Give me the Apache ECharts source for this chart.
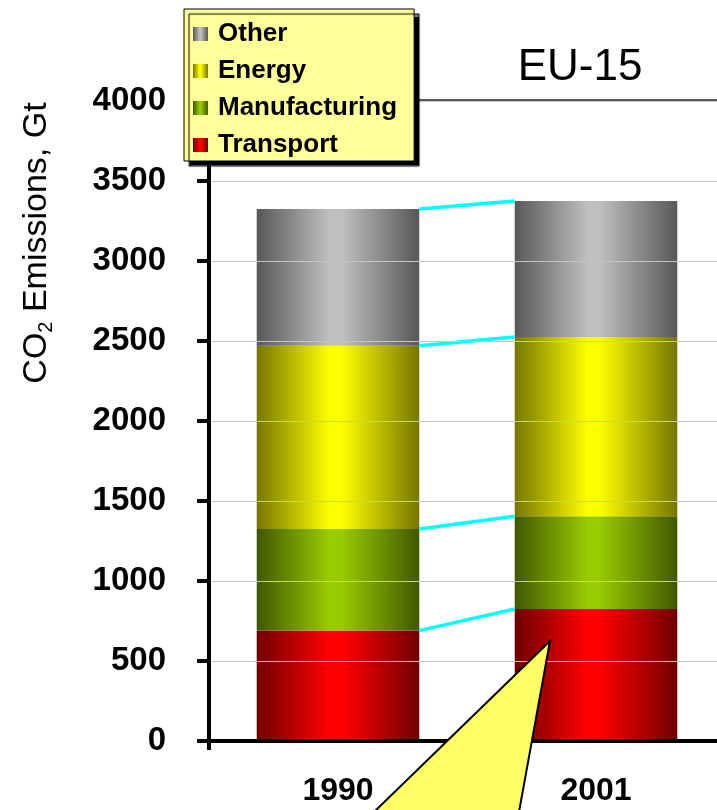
<!DOCTYPE html>
<html>
<head>
<meta charset="utf-8">
<script src="https://cdn.jsdelivr.net/npm/echarts@6/dist/echarts.min.js"></script>
<style>
html,body{margin:0;padding:0;background:#fff;overflow:hidden;width:717px;height:810px;}
#chart{width:725px;height:810px;}
</style>
</head>
<body>
<div id="chart"></div>
<script>
const categories = ['1990', '2001'];
const transport = [690, 825];
const manufacturing = [635, 580];
const energy = [1145, 1120];
const other = [855, 850];
const yTicks = { min: 0, max: 4000, interval: 500 };
const legendNames = ['Other', 'Energy', 'Manufacturing', 'Transport'];

const FONT = '"Liberation Sans", Arial, sans-serif';
const BAR_FRAC = 0.63;

function grad(edge, mid) {
  return {
    type: 'linear', x: 0, y: 0, x2: 1, y2: 0,
    colorStops: [
      { offset: 0, color: edge },
      { offset: 0.45, color: mid },
      { offset: 0.52, color: mid },
      { offset: 1, color: edge }
    ]
  };
}

// cumulative boundaries for connector lines
const stacks = [transport, manufacturing, energy, other];
const connectors = [];
let cum = [0, 0];
stacks.forEach(s => {
  cum = [cum[0] + s[0], cum[1] + s[1]];
  connectors.push([0, cum[0], cum[1]]);
});

const chart = echarts.init(document.getElementById('chart'));
const barBase = {
  type: 'bar', stack: 'total', barWidth: (BAR_FRAC * 100) + '%',
  z: 3
};

chart.setOption({
  animation: false,
  backgroundColor: '#fff',
  textStyle: { fontFamily: FONT },
  grid: { left: 209, top: 101, right: 0, bottom: 69, containLabel: false },
  legend: {
    data: legendNames,
    orient: 'vertical',
    left: 184, top: 9,
    padding: [12, 17, 3, 9],
    itemGap: 11,
    itemWidth: 15, itemHeight: 14,
    icon: 'rect',
    backgroundColor: '#ffff99',
    borderColor: '#000', borderWidth: 1,
    shadowColor: '#000', shadowBlur: 1, shadowOffsetX: 5, shadowOffsetY: 5,
    textStyle: { fontFamily: FONT, fontSize: 26, fontWeight: 'bold', color: '#000', padding: [0, 0, 0, 5] },
    selectedMode: false,
    z: 10
  },
  xAxis: {
    type: 'category',
    data: categories,
    axisLine: { lineStyle: { color: '#000', width: 4 } },
    axisTick: { show: true, length: 9, lineStyle: { color: '#000', width: 4 } },
    axisLabel: { fontFamily: FONT, fontSize: 32, fontWeight: 'bold', color: '#000', margin: 34 },
    z: 5
  },
  yAxis: {
    type: 'value',
    min: yTicks.min, max: yTicks.max, interval: yTicks.interval,
    axisLine: { show: true, lineStyle: { color: '#000', width: 4 } },
    axisTick: { show: true, length: 12, lineStyle: { color: '#000', width: 4 } },
    axisLabel: { fontFamily: FONT, fontSize: 33, fontWeight: 'bold', color: '#000', margin: 43,
      formatter: v => String(v) },
    splitLine: { show: true, lineStyle: { color: '#c4c4c4', width: 1 } },
    z: 5
  },
  series: [
    Object.assign({}, barBase, { name: 'Transport', data: transport, itemStyle: { color: grad('#700000', '#ff0000') } }),
    Object.assign({}, barBase, { name: 'Manufacturing', data: manufacturing, itemStyle: { color: grad('#405800', '#99cc00') } }),
    Object.assign({}, barBase, { name: 'Energy', data: energy, itemStyle: { color: grad('#767600', '#ffff00') } }),
    Object.assign({}, barBase, { name: 'Other', data: other, itemStyle: { color: grad('#585858', '#c0c0c0') } }),
    {
      type: 'custom',
      name: 'connectors',
      data: connectors,
      encode: { x: 0, y: [1, 2] },
      z: 4,
      silent: true,
      renderItem: function (params, api) {
        const p0 = api.coord([0, api.value(1)]);
        const p1 = api.coord([1, api.value(2)]);
        const band = api.size([1, 0])[0];
        const half = band * BAR_FRAC / 2;
        return {
          type: 'line',
          shape: { x1: p0[0] + half, y1: p0[1], x2: p1[0] - half, y2: p1[1] },
          style: { stroke: '#00ffff', lineWidth: 3.5 }
        };
      }
    }
  ],
  graphic: [
    {
      type: 'line', z: 1,
      shape: { x1: 210, y1: 100, x2: 725, y2: 100 },
      style: { stroke: '#222', lineWidth: 1.5 }
    },
    {
      type: 'text', z: 20,
      x: 580, y: 68,
      style: {
        text: 'EU-15', fontFamily: FONT, fontSize: 44, fill: '#000',
        textAlign: 'center', textVerticalAlign: 'middle'
      }
    },
    {
      type: 'text', z: 20,
      x: 37, y: 243, rotation: Math.PI / 2,
      style: {
        text: '{n|CO}{s|2}{n| Emissions, Gt}',
        textAlign: 'center', textVerticalAlign: 'middle',
        fill: '#000',
        rich: {
          n: { fontFamily: FONT, fontSize: 34, fill: '#000', lineHeight: 40 },
          s: { fontFamily: FONT, fontSize: 20, fill: '#000', lineHeight: 40, padding: [18, 0, 0, 0] }
        }
      }
    },
    {
      type: 'polygon', z: 100,
      shape: { points: [[550, 641], [374, 812], [519, 812]] },
      style: { fill: '#ffff66', stroke: '#000', lineWidth: 2 }
    }
  ]
});
</script>
</body>
</html>
